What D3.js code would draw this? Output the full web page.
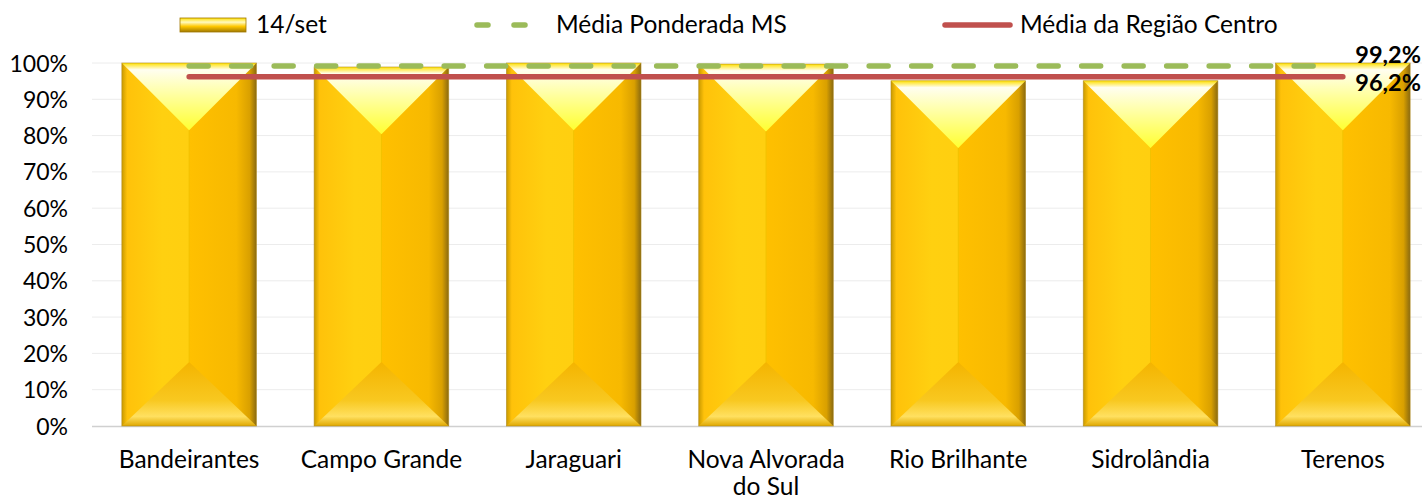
<!DOCTYPE html>
<html><head><meta charset="utf-8">
<script src="https://cdn.jsdelivr.net/npm/d3@7"></script>
<style>body{margin:0;background:#fff}svg{display:block;font-family:Lato,"Open Sans",sans-serif}</style>
</head><body><svg id="c" width="1422" height="502"></svg>
<script>
const categories = ["Bandeirantes","Campo Grande","Jaraguari","Nova Alvorada|do Sul","Rio Brilhante","Sidrolândia","Terenos"];
const values = [100, 98.9, 100, 99.7, 95.1, 95.1, 100];
const mediaMS = 99.2;
const mediaRegiao = 96.2;
const yTicks = [0,10,20,30,40,50,60,70,80,90,100];
const legendLabels = ["14/set","Média Ponderada MS","Média da Região Centro"];

const svg = d3.select("#c");
const defs = svg.append("defs");
function lg(id, x2, y2, stops){
  const g = defs.append("linearGradient").attr("id",id).attr("x1",0).attr("y1",0).attr("x2",x2).attr("y2",y2);
  stops.forEach(s=>g.append("stop").attr("offset",s[0]).attr("stop-color",s[1]));
}
lg("gBody",1,0,[[0,"#c99a00"],[0.04,"#ffc20a"],[0.3,"#ffd010"],[0.5,"#ffcf10"],[0.5,"#ffc000"],[0.85,"#f7b900"],[0.95,"#d9a000"],[1,"#8a6a10"]]);
lg("gTop",0,1,[[0,"#ffe000"],[0.1,"#fffef0"],[0.4,"#ffffb0"],[1,"#ffff30"]]);
lg("gBot",0,1,[[0,"#f4b400"],[0.6,"#f8c820"],[0.85,"#ffe060"],[1,"#e0a800"]]);
lg("gLeg",0,1,[[0,"#ffe000"],[0.3,"#fffac0"],[0.6,"#ffc800"],[1,"#a07800"]]);

const x = d3.scaleBand().domain(categories).range([93,1439]).paddingInner(0.3).paddingOuter(0.15);
const y = d3.scaleLinear().domain([0,100]).range([426,63]);

// gridlines
svg.append("g").selectAll("line").data(yTicks.slice(1)).join("line")
  .attr("x1",92).attr("x2",1422).attr("y1",d=>y(d)).attr("y2",d=>y(d))
  .attr("stroke","#ececec").attr("stroke-width",1);
svg.append("line").attr("x1",92).attr("x2",1422).attr("y1",y(0)+0.5).attr("y2",y(0)+0.5).attr("stroke","#d0d0d0").attr("stroke-width",1.5);

// y axis
const yAxis = d3.axisLeft(y).tickValues(yTicks).tickFormat(d=>d+"%").tickSize(0).tickPadding(0);
const ya = svg.append("g").attr("transform","translate(68,0)").call(yAxis);
ya.select(".domain").remove();
ya.selectAll("text").attr("font-size",23).attr("fill","#000").attr("font-family","Lato,sans-serif").attr("dy","0.35em");

// bars
const bars = svg.append("g").selectAll("g").data(categories.map((c,i)=>({c,v:values[i]}))).join("g");
bars.each(function(d){
  const g = d3.select(this);
  const x0 = x(d.c), w = x.bandwidth(), y0 = y(d.v), h = y(0)-y(d.v);
  const hw = w/2;
  g.append("rect").attr("x",x0).attr("y",y0).attr("width",w).attr("height",h).attr("fill","url(#gBody)");
  g.append("path").attr("d",`M${x0},${y0}L${x0+w},${y0}L${x0+hw},${y0+hw}Z`).attr("fill","url(#gTop)");
  g.append("path").attr("d",`M${x0},${y0+h}L${x0+w},${y0+h}L${x0+hw},${y0+h-hw*0.95}Z`).attr("fill","url(#gBot)");
  g.append("line").attr("x1",x0+hw).attr("x2",x0+hw).attr("y1",y0+hw).attr("y2",y0+h-hw*0.95).attr("stroke","#f2c200").attr("stroke-width",1);
  g.append("rect").attr("x",x0).attr("y",y0).attr("width",w).attr("height",h).attr("fill","none").attr("stroke","#b08a20").attr("stroke-width",0.8).attr("opacity",0.7);
});

// lines
const xs = x(categories[0])+x.bandwidth()/2, xe = x(categories[categories.length-1])+x.bandwidth()/2;
svg.append("line").attr("x1",xs).attr("x2",xe-20).attr("y1",y(mediaMS)).attr("y2",y(mediaMS))
  .attr("stroke","#9bbb59").attr("stroke-width",5.5).attr("stroke-linecap","round").attr("stroke-dasharray","19 23.5");
svg.append("line").attr("x1",xs).attr("x2",xe).attr("y1",y(mediaRegiao)).attr("y2",y(mediaRegiao))
  .attr("stroke","#c0504d").attr("stroke-width",5.5).attr("stroke-linecap","round");

svg.append("text").attr("x",1421).attr("y",y(mediaMS)-3).attr("text-anchor","end").attr("font-weight","bold").attr("font-size",23.5).text(mediaMS.toFixed(1).replace(".",",")+"%");
svg.append("text").attr("x",1421).attr("y",y(mediaRegiao)+14).attr("text-anchor","end").attr("font-weight","bold").attr("font-size",23.5).text(mediaRegiao.toFixed(1).replace(".",",")+"%");

// x labels
const xl = svg.append("g").selectAll("text").data(categories).join("text")
  .attr("x",d=>x(d)+x.bandwidth()/2).attr("y",468).attr("text-anchor","middle").attr("font-size",24.5).attr("fill","#000");
xl.each(function(d){
  const t = d3.select(this);
  d.split("|").forEach((s,i)=>t.append("tspan").attr("x",x(d)+x.bandwidth()/2).attr("dy",i?27:0).text(s));
});

// legend
const lgY = 25;
svg.append("rect").attr("x",180).attr("y",lgY-7).attr("width",66).attr("height",14).attr("fill","url(#gLeg)").attr("stroke","#a07800").attr("stroke-width",0.8);
svg.append("text").attr("x",256).attr("y",lgY+8).attr("font-size",24.5).text(legendLabels[0]);
svg.append("line").attr("x1",477).attr("x2",532).attr("y1",lgY).attr("y2",lgY).attr("stroke","#9bbb59").attr("stroke-width",5.5).attr("stroke-linecap","round").attr("stroke-dasharray","11 26");
svg.append("text").attr("x",556).attr("y",lgY+8).attr("font-size",24.5).text(legendLabels[1]);
svg.append("line").attr("x1",945).attr("x2",1010).attr("y1",lgY).attr("y2",lgY).attr("stroke","#c0504d").attr("stroke-width",5.5).attr("stroke-linecap","round");
svg.append("text").attr("x",1020).attr("y",lgY+8).attr("font-size",24.5).text(legendLabels[2]);
</script></body></html>
